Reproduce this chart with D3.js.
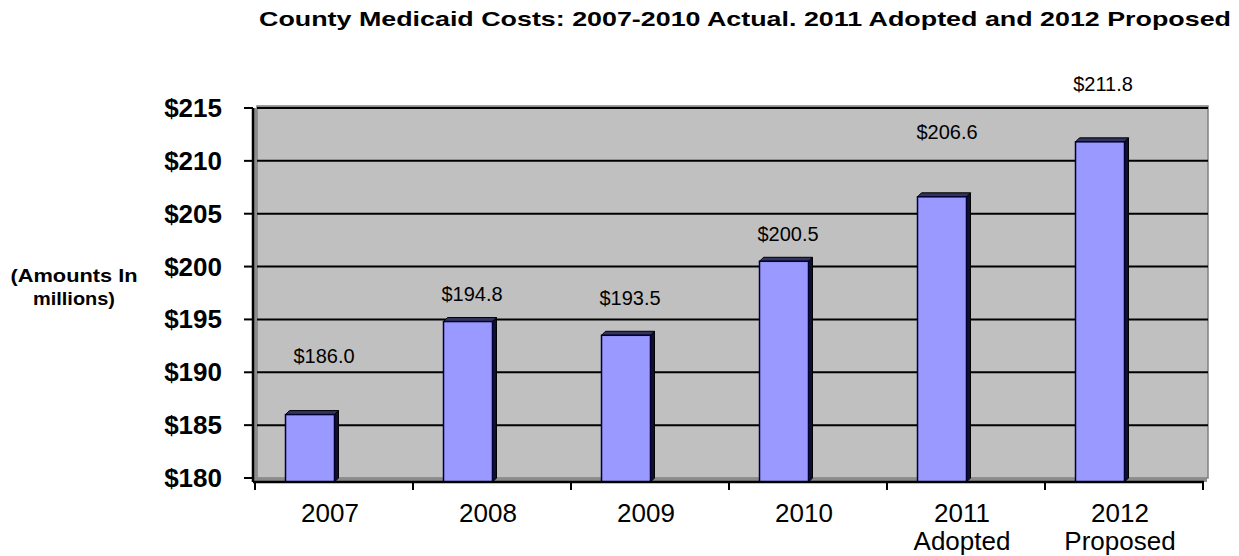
<!DOCTYPE html>
<html>
<head>
  <meta charset="UTF-8">
  <title>County Medicaid Costs</title>
  <script src="https://d3js.org/d3.v7.min.js"></script>
  <style>
    body {
      margin: 0;
      padding: 0;
      background: #fff;
      font-family: "Liberation Sans", Arial, sans-serif;
    }
    .title { font-size: 21px; font-weight: bold; }
    .y-title { font-size: 18px; font-weight: bold; }
    .y-tick { font-size: 26px; font-weight: bold; }
    .x-label { font-size: 26px; }
    .value-label { font-size: 20px; }
  </style>
</head>
<body>
  <div id="chart"></div>

  <script>
    // data (millions of dollars)
    const years = ["2007", "2008", "2009", "2010", "2011", "2012"];
    const subLabels = ["", "", "", "", "Adopted", "Proposed"];
    const costs = [186.0, 194.8, 193.5, 200.5, 206.6, 211.8];
    const yTicks = [180, 185, 190, 195, 200, 205, 210, 215];

    // label placement as in the original (px above the bar top, px sideways)
    const labelLift = [52, 21, 30, 20, 58, 51];
    const labelDx = [14, 4, 4, 4, 5, 3];

    const width = 1239;
    const height = 556;
    const plot = { left: 253, right: 1203, top: 108, bottom: 478 };
    const depth = 4;

    const svg = d3.select("#chart").append("svg")
      .attr("width", width)
      .attr("height", height);

    const x = d3.scaleBand()
      .domain(years)
      .range([plot.left + 2, plot.right])
      .paddingInner(0)
      .paddingOuter(0);

    const y = d3.scaleLinear()
      .domain([180, 215])
      .range([plot.bottom, plot.top]);

    // back wall
    svg.append("rect")
      .attr("x", plot.left + depth)
      .attr("y", plot.top - 2)
      .attr("width", plot.right + 5 - plot.left - depth)
      .attr("height", plot.bottom - plot.top + 2)
      .attr("fill", "#c0c0c0")
      .attr("stroke", "#808080")
      .attr("stroke-width", 1.5);

    // left side wall strip
    svg.append("rect")
      .attr("x", plot.left)
      .attr("y", plot.top)
      .attr("width", depth)
      .attr("height", plot.bottom - plot.top + 4)
      .attr("fill", "#8c8c8c");

    // floor strip
    svg.append("rect")
      .attr("x", plot.left)
      .attr("y", plot.bottom)
      .attr("width", plot.right - plot.left + 4)
      .attr("height", depth)
      .attr("fill", "#8c8c8c");

    // gridlines
    svg.append("g")
      .selectAll("line")
      .data(yTicks.slice(1))
      .join("line")
      .attr("x1", plot.left + depth)
      .attr("x2", plot.right + 5)
      .attr("y1", d => y(d))
      .attr("y2", d => y(d))
      .attr("stroke", "#000")
      .attr("stroke-width", 2);

    // bars with a little 3D depth
    const barW = x.bandwidth() * 0.31;
    const barX = d => x(d) + x.bandwidth() / 2 - 24 - barW / 2;
    const rows = years.map((yr, i) => ({ yr, v: costs[i], i }));

    const bars = svg.append("g")
      .selectAll("g")
      .data(rows)
      .join("g");

    // side face
    bars.append("path")
      .attr("d", d => {
        const x0 = barX(d.yr) + barW, yt = y(d.v);
        return `M${x0},${yt} L${x0 + depth},${yt - depth} L${x0 + depth},${plot.bottom} L${x0},${plot.bottom + depth} Z`;
      })
      .attr("fill", "#10102e")
      .attr("stroke", "#000")
      .attr("stroke-width", 1);

    // top face
    bars.append("path")
      .attr("d", d => {
        const x0 = barX(d.yr), yt = y(d.v);
        return `M${x0},${yt} L${x0 + depth},${yt - depth} L${x0 + barW + depth},${yt - depth} L${x0 + barW},${yt} Z`;
      })
      .attr("fill", "#33335c")
      .attr("stroke", "#000")
      .attr("stroke-width", 1);

    // front face
    bars.append("rect")
      .attr("x", d => barX(d.yr))
      .attr("y", d => y(d.v))
      .attr("width", barW)
      .attr("height", d => plot.bottom + depth - y(d.v))
      .attr("fill", "#9999ff")
      .attr("stroke", "#000033")
      .attr("stroke-width", 1.5);

    // value labels
    svg.append("g")
      .selectAll("text")
      .data(rows)
      .join("text")
      .attr("class", "value-label")
      .attr("text-anchor", "middle")
      .attr("x", d => barX(d.yr) + barW / 2 + labelDx[d.i])
      .attr("y", d => y(d.v) - labelLift[d.i])
      .text(d => "$" + d.v.toFixed(1));

    // y axis line + ticks
    svg.append("line")
      .attr("x1", plot.left).attr("x2", plot.left)
      .attr("y1", plot.top).attr("y2", plot.bottom + depth)
      .attr("stroke", "#000").attr("stroke-width", 2.5);

    const yAxis = svg.append("g");
    yAxis.selectAll("line")
      .data(yTicks)
      .join("line")
      .attr("x1", plot.left - 9).attr("x2", plot.left)
      .attr("y1", d => y(d)).attr("y2", d => y(d))
      .attr("stroke", "#000").attr("stroke-width", 2);
    yAxis.selectAll("text")
      .data(yTicks)
      .join("text")
      .attr("class", "y-tick")
      .attr("text-anchor", "end")
      .attr("x", plot.left - 31)
      .attr("y", d => y(d) + 9)
      .text(d => "$" + d);

    // x axis line + ticks
    svg.append("line")
      .attr("x1", plot.left).attr("x2", plot.right + 1)
      .attr("y1", plot.bottom + depth).attr("y2", plot.bottom + depth)
      .attr("stroke", "#000").attr("stroke-width", 2.5);

    const bounds = years.map(d => x(d)).concat([plot.right]);
    svg.append("g")
      .selectAll("line")
      .data(bounds)
      .join("line")
      .attr("x1", d => d).attr("x2", d => d)
      .attr("y1", plot.bottom + depth).attr("y2", plot.bottom + depth + 8)
      .attr("stroke", "#000").attr("stroke-width", 2);

    const xl = svg.append("g")
      .selectAll("text")
      .data(years.map((yr, i) => ({ yr, sub: subLabels[i] })))
      .join("text")
      .attr("class", "x-label")
      .attr("text-anchor", "middle")
      .attr("x", d => x(d.yr) + x.bandwidth() / 2 - 4)
      .attr("y", 522);
    xl.append("tspan").text(d => d.yr);
    xl.append("tspan")
      .attr("x", d => x(d.yr) + x.bandwidth() / 2 - 4)
      .attr("dy", 28)
      .text(d => d.sub);

    // y axis title
    svg.append("text")
      .attr("class", "y-title")
      .attr("text-anchor", "middle")
      .attr("y", 282)
      .selectAll("tspan")
      .data([["(Amounts In", 127], ["millions)", 82]])
      .join("tspan")
      .attr("x", 74)
      .attr("dy", (d, i) => i === 0 ? 0 : 23)
      .attr("textLength", d => d[1])
      .attr("lengthAdjust", "spacingAndGlyphs")
      .text(d => d[0]);

    // title
    svg.append("text")
      .attr("class", "title")
      .attr("text-anchor", "middle")
      .attr("x", 745)
      .attr("y", 26)
      .attr("textLength", 972)
      .attr("lengthAdjust", "spacingAndGlyphs")
      .text("County Medicaid Costs: 2007-2010 Actual. 2011 Adopted and 2012 Proposed");
  </script>
</body>
</html>
